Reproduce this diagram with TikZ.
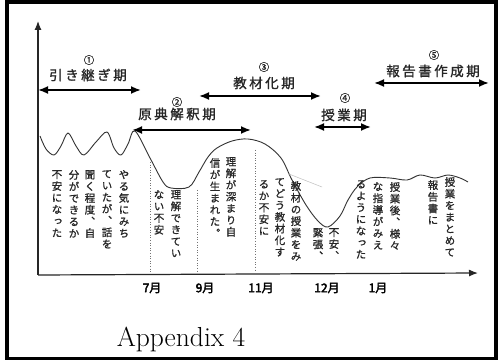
\documentclass[tikz,border=0pt]{standalone}
\usepackage{fontspec}
\newfontfamily\jp{Noto Sans CJK JP}[FakeBold=1.2]
\newfontfamily\jpm{Noto Sans CJK JP}[FakeBold=3]
\newfontfamily\jpv{Noto Sans CJK JP}[RawFeature=+vert,FakeBold=1]
\usetikzlibrary{arrows.meta}
\ExplSyntaxOn
\NewDocumentCommand\vtext{mm}{
  \vbox{\baselineskip=#1\relax\lineskiplimit=-\c_max_dim
    \tl_map_inline:nn{#2}{\hbox_to_wd:nn{1em}{\hss ##1\hss}}}}
\NewDocumentCommand\htext{mm}{
  \tl_map_inline:nn{#2}{\hbox_to_wd:nn{#1}{\hss ##1\hss}}}
\ExplSyntaxOff
\begin{document}
\begin{tikzpicture}[x=1pt,y=-1pt,
  ink/.style={text=black!85},
  lab/.style={ink,inner sep=0pt,font=\jp\fontsize{13.5}{14}\selectfont},
  num/.style={ink,inner sep=0pt,font=\jp\fontsize{10.5}{11}\selectfont},
  vt/.style={ink,inner sep=0pt,anchor=north,font=\jpv\fontsize{10.5}{11}\selectfont},
  month/.style={text=black,inner sep=0pt,font=\jpm\fontsize{12}{12}\selectfont},
  period/.style={draw=black,line width=1.8pt,{Latex[length=10pt,width=8pt]}-{Latex[length=10pt,width=8pt]}},
  axis/.style={draw=black!85,line width=1.2pt,-{Latex[length=9pt,width=7pt]}},
  curve/.style={draw=black!80,line width=0.9pt},
  guide/.style={draw=black!55,line width=0.6pt,dotted}]
\useasboundingbox (0,0) rectangle (498,363);
\fill[white] (0,0) rectangle (498,363);
\draw[line width=3.5pt] (7,1.8) rectangle (496.2,358.5);

% axes
\coordinate (O) at (38,275);
\coordinate (Ytop) at (38,21);
\coordinate (Xend) at (478,273);
\draw[axis] (O) -- (Ytop);
\draw[axis] (O) -- (Xend);

% periods
\node[num] (n1) at (89,60) {①};
\node[lab] (p1) at (88,75) {\htext{16pt}{引き継ぎ期}};
\coordinate (a1l) at (38,90); \coordinate (a1r) at (141,90);
\draw[period] (a1l) -- (a1r);

\node[num] (n2) at (177,102) {②};
\node[lab] (p2) at (177,114) {\htext{16pt}{原典解釈期}};
\coordinate (a2l) at (132,130); \coordinate (a2r) at (251,130);
\draw[period] (a2l) -- (a2r);

\node[num] (n3) at (264,67) {③};
\node[lab] (p3) at (264,83) {\htext{16pt}{教材化期}};
\coordinate (a3l) at (199,96); \coordinate (a3r) at (321,96);
\draw[period] (a3l) -- (a3r);

\node[num] (n4) at (345,98) {④};
\node[lab] (p4) at (344,115) {\htext{16pt}{授業期}};
\coordinate (a4l) at (314,127); \coordinate (a4r) at (371,127);
\draw[period] (a4l) -- (a4r);

\node[num] (n5) at (434,55) {⑤};
\node[lab] (p5) at (433,71) {\htext{16pt}{報告書作成期}};
\coordinate (a5l) at (374,83); \coordinate (a5r) at (489,83);
\draw[period] (a5l) -- (a5r);

% curve
\draw[curve] plot[smooth,tension=0.55] coordinates {(40,136) (46,149) (54,155) (61,146) (68,133) (76,146) (84,155) (96,142) (107,132) (114,148) (121,155) (128,144) (135,131) (150,158) (163,182) (171,188) (189,187) (199,172) (208,157) (217,148) (232,141) (248,139) (265,144) (281,158) (292,180) (306,205) (318,221) (328,227) (340,216) (348,200) (357,187) (370,178) (390,178) (407,180) (420,175) (435,178) (448,175) (460,178) (468,182)};

% dotted guides
\coordinate (g1t) at (150,162); \coordinate (g1b) at (150,272);
\coordinate (g2t) at (197,190); \coordinate (g2b) at (197,272);
\coordinate (g3t) at (255,150); \coordinate (g3b) at (255,271);
\draw[guide] (g1t) -- (g1b);
\draw[guide] (g2t) -- (g2b);
\draw[guide] (g3t) -- (g3b);
\draw[black!25,line width=0.5pt] (289,174) -- (322,187);

% vertical comments
\node[vt] (c1a) at (124,170) {\vtext{11.7pt}{やる気にみち}};
\node[vt] (c1b) at (107,170) {\vtext{11.7pt}{ていたが、話を}};
\node[vt] (c1c) at (90,170) {\vtext{11.7pt}{聞く程度、自}};
\node[vt] (c1d) at (74,170) {\vtext{11.7pt}{分ができるか}};
\node[vt] (c1e) at (57,170) {\vtext{11.7pt}{不安になった}};

\node[vt] (c2a) at (176,190) {\vtext{11.7pt}{理解できてい}};
\node[vt] (c2b) at (159,190) {\vtext{11.7pt}{ない不安}};

\node[vt] (c3a) at (231,157) {\vtext{11.7pt}{理解が深まり自}};
\node[vt] (c3b) at (215,158) {\vtext{11.7pt}{信が生まれた。}};

\node[vt] (c4a) at (296,181) {\vtext{11.7pt}{教材の授業をみ}};
\node[vt] (c4b) at (280,178) {\vtext{11.7pt}{てどう教材化す}};
\node[vt] (c4c) at (264,180) {\vtext{11.7pt}{るか不安に}};

\node[vt] (c5a) at (334,228) {\vtext{11.7pt}{不安、}};
\node[vt] (c5b) at (318,228) {\vtext{11.7pt}{緊張、}};

\node[vt] (c6a) at (395,182) {\vtext{11.7pt}{授業後、様々}};
\node[vt] (c6b) at (378,182) {\vtext{11.7pt}{な指導がみえ}};
\node[vt] (c6c) at (361,180) {\vtext{11.7pt}{るようになった}};

\node[vt] (c7a) at (450,177) {\vtext{11.7pt}{授業をまとめて}};
\node[vt] (c7b) at (433,180) {\vtext{11.7pt}{報告書に}};

% months
\node[month] (m7) at (152,288) {7月};
\node[month] (m9) at (205,288) {9月};
\node[month] (m11) at (261,288) {11月};
\node[month] (m12) at (327,288) {12月};
\node[month] (m1) at (378,288) {1月};

\node[anchor=base,inner sep=0pt,font=\fontsize{27.5}{30}\selectfont] (app) at (181,346.5) {Appendix 4};
\end{tikzpicture}
\end{document}
